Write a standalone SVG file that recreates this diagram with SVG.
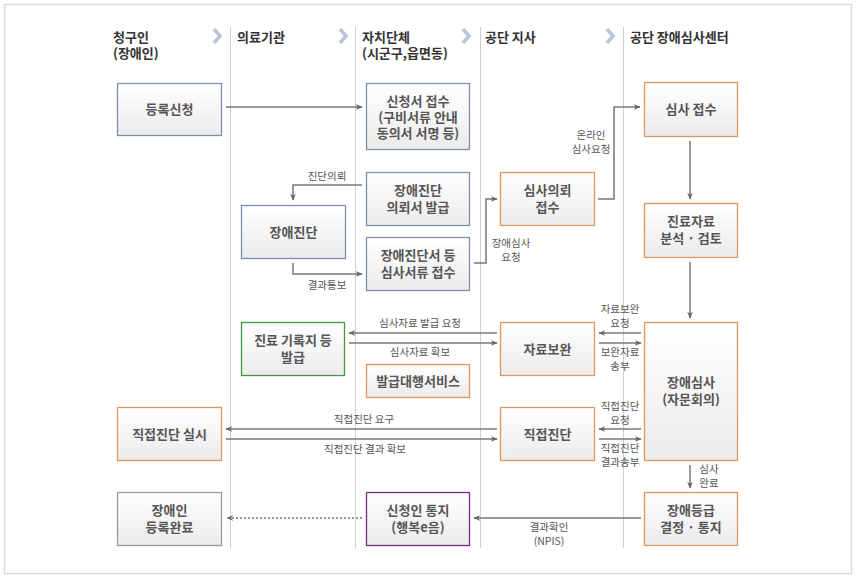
<svg xmlns="http://www.w3.org/2000/svg" width="856" height="579" viewBox="0 0 856 579">
<defs>
<linearGradient id="g" x1="0" y1="0" x2="0" y2="1"><stop offset="0" stop-color="#ffffff"/><stop offset="1" stop-color="#ebebeb"/></linearGradient>
<marker id="ah" viewBox="0 0 10 10" refX="9" refY="5" markerWidth="7" markerHeight="7" orient="auto-start-reverse" markerUnits="userSpaceOnUse"><path d="M0,1 L10,5 L0,9 L3,5 Z" fill="#666"/></marker>
</defs>
<style>
.bx{fill:url(#g);stroke-width:1.3}
.blue{stroke:#7f8db0}
.org{stroke:#e3955a}
.grn{stroke:#3f9a3a}
.pur{stroke:#7b2a80}
.gry{stroke:#9a9a9a}
.nt{font-family:"Noto Sans CJK KR","Noto Sans",sans-serif;font-size:13px;font-weight:bold;fill:#555;text-anchor:middle}
.hd{font-family:"Noto Sans CJK KR","Noto Sans",sans-serif;font-size:13px;font-weight:bold;fill:#333}
.lb{font-family:"Noto Sans CJK KR","Noto Sans",sans-serif;font-size:10.5px;fill:#555;text-anchor:middle}
.cn{fill:none;stroke:#777;stroke-width:1.5}
.col{stroke:#cfcfcf;stroke-width:1}
.chev{fill:none;stroke:#b9c5d8;stroke-width:3.5}
</style>
<rect x="4.5" y="4.5" width="847" height="569" fill="#fff" stroke="#dcdcdc" stroke-width="1.5"/>
<g id="columns">
<line class="col" x1="230.5" y1="27" x2="230.5" y2="548"/>
<line class="col" x1="355.5" y1="27" x2="355.5" y2="548"/>
<line class="col" x1="480.5" y1="27" x2="480.5" y2="548"/>
<line class="col" x1="623.5" y1="27" x2="623.5" y2="548"/>
<polyline class="chev" points="214,29 220,36 214,43"/>
<polyline class="chev" points="340,29 346,36 340,43"/>
<polyline class="chev" points="463,29 469,36 463,43"/>
<polyline class="chev" points="607,29 613,36 607,43"/>
<text class="hd" x="113" y="42">청구인</text>
<text class="hd" x="113" y="58">(장애인)</text>
<text class="hd" x="237" y="42">의료기관</text>
<text class="hd" x="362" y="42">자치단체</text>
<text class="hd" x="362" y="58">(시군구,읍면동)</text>
<text class="hd" x="485" y="42">공단 지사</text>
<text class="hd" x="630" y="42">공단 장애심사센터</text>
</g>
<g id="connectors">
<line class="cn" x1="226" y1="107" x2="362" y2="107" marker-end="url(#ah)"/>
<polyline class="cn" points="362,185 293,185 293,200" marker-end="url(#ah)"/>
<polyline class="cn" points="293,263 293,274 362,274" marker-end="url(#ah)"/>
<polyline class="cn" points="474,263 486,263 486,199 497,199" marker-end="url(#ah)"/>
<polyline class="cn" points="598,199 614,199 614,107 640,107" marker-end="url(#ah)"/>
<line class="cn" x1="690" y1="141" x2="690" y2="199" marker-end="url(#ah)"/>
<line class="cn" x1="690" y1="262" x2="690" y2="318" marker-end="url(#ah)"/>
<line class="cn" x1="497" y1="333" x2="349" y2="333" marker-end="url(#ah)"/>
<line class="cn" x1="349" y1="343" x2="497" y2="343" marker-end="url(#ah)"/>
<line class="cn" x1="641" y1="333" x2="599" y2="333" marker-end="url(#ah)"/>
<line class="cn" x1="599" y1="343" x2="641" y2="343" marker-end="url(#ah)"/>
<line class="cn" x1="497" y1="429" x2="226" y2="429" marker-end="url(#ah)"/>
<line class="cn" x1="226" y1="439" x2="497" y2="439" marker-end="url(#ah)"/>
<line class="cn" x1="641" y1="429" x2="599" y2="429" marker-end="url(#ah)"/>
<line class="cn" x1="599" y1="439" x2="641" y2="439" marker-end="url(#ah)"/>
<line class="cn" x1="690" y1="465" x2="690" y2="488" marker-end="url(#ah)"/>
<line class="cn" x1="641" y1="518" x2="474" y2="518" marker-end="url(#ah)"/>
<line class="cn" x1="362" y1="518" x2="227" y2="518" stroke-dasharray="2,2" marker-end="url(#ah)"/>
<text class="lb" x="327" y="180">진단의뢰</text>
<text class="lb" x="327" y="289">결과통보</text>
<text class="lb" x="511" y="247">장애심사</text>
<text class="lb" x="511" y="261">요청</text>
<text class="lb" x="591" y="139">온라인</text>
<text class="lb" x="591" y="153">심사요청</text>
<text class="lb" x="420" y="327">심사자료 발급 요청</text>
<text class="lb" x="420" y="356">심사자료 확보</text>
<text class="lb" x="620" y="313">자료보완</text>
<text class="lb" x="620" y="327">요청</text>
<text class="lb" x="620" y="356">보완자료</text>
<text class="lb" x="620" y="370">송부</text>
<text class="lb" x="364" y="423">직접진단 요구</text>
<text class="lb" x="365" y="453">직접진단 결과 확보</text>
<text class="lb" x="620" y="410">직접진단</text>
<text class="lb" x="620" y="424">요청</text>
<text class="lb" x="620" y="452">직접진단</text>
<text class="lb" x="620" y="466">결과송부</text>
<text class="lb" x="709" y="473">심사</text>
<text class="lb" x="709" y="487">완료</text>
<text class="lb" x="549" y="531">결과확인</text>
<text class="lb" x="549" y="545">(NPIS)</text>
</g>
<g id="n1"><rect class="bx blue" x="117.5" y="83.5" width="104" height="52"/><text class="nt" x="169.5" y="114">등록신청</text></g>
<g id="n2"><rect class="bx blue" x="366.5" y="83.5" width="103" height="66"/><text class="nt" x="418" y="106">신청서 접수</text><text class="nt" x="418" y="122">(구비서류 안내</text><text class="nt" x="418" y="138">동의서 서명 등)</text></g>
<g id="n3"><rect class="bx blue" x="366.5" y="172.5" width="103" height="53"/><text class="nt" x="418" y="195">장애진단</text><text class="nt" x="418" y="212">의뢰서 발급</text></g>
<g id="n4"><rect class="bx blue" x="241.5" y="205.5" width="104" height="53"/><text class="nt" x="293.5" y="237">장애진단</text></g>
<g id="n5"><rect class="bx blue" x="366.5" y="237.5" width="103" height="53"/><text class="nt" x="418" y="260">장애진단서 등</text><text class="nt" x="418" y="277">심사서류 접수</text></g>
<g id="n6"><rect class="bx org" x="500.5" y="172.5" width="94" height="53"/><text class="nt" x="547.5" y="195">심사의뢰</text><text class="nt" x="547.5" y="212">접수</text></g>
<g id="n7"><rect class="bx org" x="644.5" y="82.5" width="93" height="54"/><text class="nt" x="691" y="114">심사 접수</text></g>
<g id="n8"><rect class="bx org" x="644.5" y="203.5" width="93" height="54"/><text class="nt" x="691" y="226">진료자료</text><text class="nt" x="691" y="243">분석 · 검토</text></g>
<g id="n9"><rect class="bx grn" x="241.5" y="322.5" width="103" height="53"/><text class="nt" x="293" y="345">진료 기록지 등</text><text class="nt" x="293" y="362">발급</text></g>
<g id="n10"><rect class="bx org" x="366.5" y="364.5" width="103" height="33"/><text class="nt" x="418" y="386">발급대행서비스</text></g>
<g id="n11"><rect class="bx org" x="500.5" y="322.5" width="94" height="53"/><text class="nt" x="547.5" y="354">자료보완</text></g>
<g id="n12"><rect class="bx org" x="644.5" y="322.5" width="93" height="138"/><text class="nt" x="691" y="387">장애심사</text><text class="nt" x="691" y="404">(자문회의)</text></g>
<g id="n13"><rect class="bx org" x="117.5" y="407.5" width="104" height="53"/><text class="nt" x="169.5" y="439">직접진단 실시</text></g>
<g id="n14"><rect class="bx org" x="500.5" y="407.5" width="94" height="53"/><text class="nt" x="547.5" y="439">직접진단</text></g>
<g id="n15"><rect class="bx gry" x="117.5" y="492.5" width="104" height="53"/><text class="nt" x="169.5" y="515">장애인</text><text class="nt" x="169.5" y="532">등록완료</text></g>
<g id="n16"><rect class="bx pur" x="366.5" y="492.5" width="103" height="53"/><text class="nt" x="418" y="515">신청인 통지</text><text class="nt" x="418" y="532">(행복e음)</text></g>
<g id="n17"><rect class="bx org" x="644.5" y="492.5" width="93" height="53"/><text class="nt" x="691" y="515">장애등급</text><text class="nt" x="691" y="532">결정 · 통지</text></g>
</svg>
